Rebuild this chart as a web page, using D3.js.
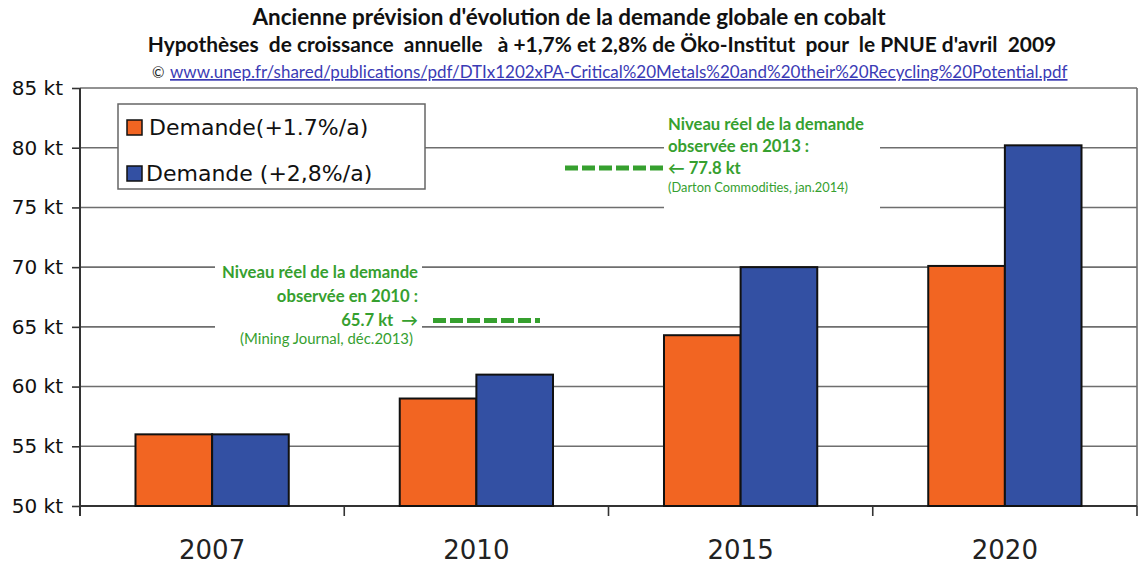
<!DOCTYPE html>
<html>
<head>
<meta charset="utf-8">
<script src="https://cdn.jsdelivr.net/npm/d3@7"></script>
<style>
  body { margin: 0; background: #fff; }
  svg { display: block; }
</style>
</head>
<body>
<div id="chart"></div>
<script>
// data
const years = ["2007", "2010", "2015", "2020"]
const seriesNames = ["Demande(+1.7%/a)", "Demande (+2,8%/a)"]
const low = [56, 59, 64.3, 70.1]     // +1,7%/a
const high = [56, 61, 70, 80.2]      // +2,8%/a
const yTicks = [50, 55, 60, 65, 70, 75, 80, 85]
const observed = [
  {year: "2010", value: 65.7, lines: ["Niveau réel de la demande", "observée en 2010 :", "65.7 kt  \u2192"], src: "(Mining Journal, déc.2013)"},
  {year: "2013", value: 77.8, lines: ["Niveau réel de la demande", "observée en 2013 :", "\u2190 77.8 kt"], src: "(Darton Commodities, jan.2014)"}
]

const width = 1138, height = 570
const colors = ["#f26522", "#3350a3"]
const green = "#36a02f"
const m = {left: 80, right: 1137, top: 88, bottom: 506}

const svg = d3.select("#chart").append("svg")
  .attr("width", width)
  .attr("height", height)

const x = d3.scaleBand().domain(years).range([m.left, m.right]).paddingInner(0.42).paddingOuter(0.21)
const xs = d3.scaleBand().domain([0, 1]).range([0, x.bandwidth()])
const y = d3.scaleLinear().domain([50, 85]).range([m.bottom, m.top])

// fit a text to a given width by changing its font size
function fit(sel, w) {
  let fs = parseFloat(sel.attr("font-size"))
  let len = sel.node().getComputedTextLength()
  sel.attr("font-size", (fs * w / len).toFixed(2))
  return fs * w / len
}

// TITLES
let t1 = svg.append("text").attr("x", 569).attr("y", 25).attr("text-anchor", "middle")
  .attr("font-family", "Lato").attr("font-weight", "bold").attr("font-size", 20).attr("fill", "#111")
  .text("Ancienne prévision d'évolution de la demande globale en cobalt")
fit(t1, 633)
let t2 = svg.append("text").attr("x", 602).attr("y", 52).attr("text-anchor", "middle")
  .attr("font-family", "Lato").attr("font-weight", "bold").attr("font-size", 17).attr("fill", "#111")
  .attr("xml:space", "preserve")
  .text("Hypothèses  de croissance  annuelle   à +1,7% et 2,8% de Öko-Institut  pour  le PNUE d'avril  2009")
fit(t2, 909)
svg.append("text").attr("x", 152).attr("y", 78)
  .attr("font-family", "Lato").attr("font-size", 15).attr("fill", "#222").text("©")
let t3 = svg.append("text").attr("x", 170).attr("y", 78)
  .attr("font-family", "Lato").attr("font-size", 15).attr("fill", "#3b3bb5")
  .attr("text-decoration", "underline")
  .text("www.unep.fr/shared/publications/pdf/DTIx1202xPA-Critical%20Metals%20and%20their%20Recycling%20Potential.pdf")
fit(t3, 898)

// GRID
svg.append("g").selectAll("line").data(yTicks).enter().append("line")
  .attr("x1", m.left).attr("x2", m.right)
  .attr("y1", d => y(d)).attr("y2", d => y(d))
  .attr("stroke", "#6e6e6e").attr("stroke-width", 1.6)
svg.append("line").attr("x1", m.right).attr("x2", m.right).attr("y1", m.top).attr("y2", m.bottom)
  .attr("stroke", "#6e6e6e").attr("stroke-width", 1.6)

// Y AXIS
const yAxis = svg.append("g").attr("transform", "translate(" + m.left + ",0)")
  .call(d3.axisLeft(y).tickValues(yTicks).tickSize(8).tickPadding(9).tickFormat(d => d + " kt"))
yAxis.select(".domain").remove()
yAxis.append("line").attr("x1", 0).attr("x2", 0).attr("y1", m.top).attr("y2", m.bottom + 10)
  .attr("stroke", "#333").attr("stroke-width", 2)
yAxis.selectAll(".tick line").attr("stroke", "#333").attr("stroke-width", 1.6)
yAxis.selectAll(".tick text").attr("font-family", "DejaVu Sans").attr("font-size", 20).attr("fill", "#111")

// X AXIS
const xAxis = svg.append("g")
svg.append("line").attr("x1", m.left).attr("x2", m.right).attr("y1", m.bottom).attr("y2", m.bottom)
  .attr("stroke", "#333").attr("stroke-width", 2)
const bounds = years.map(d => x(d) - x.step() * 0.21).concat([m.right])
xAxis.selectAll("line").data(bounds.slice(1)).enter().append("line")
  .attr("x1", d => d).attr("x2", d => d).attr("y1", m.bottom).attr("y2", m.bottom + 10)
  .attr("stroke", "#333").attr("stroke-width", 1.6)
xAxis.selectAll("text").data(years).enter().append("text")
  .attr("x", d => x(d) + x.bandwidth() / 2).attr("y", 559)
  .attr("text-anchor", "middle").attr("font-family", "DejaVu Sans").attr("font-size", 26).attr("fill", "#222")
  .text(d => d)

// ANNOTATIONS (white box behind text hides the grid)
const ann = svg.append("g")
observed.forEach((o, i) => {
  const yv = y(o.value)
  const g = ann.append("g")
  const left = i === 1
  const tx = left ? 668 : 418
  const anchor = left ? "start" : "end"
  if (left) g.append("rect").attr("x", 664).attr("y", yv - 60).attr("width", 216).attr("height", 96).attr("fill", "#fff")
  else g.append("rect").attr("x", 215).attr("y", yv - 55).attr("width", 207).attr("height", 88).attr("fill", "#fff")
  const step = left ? 22 : 24
  const y0 = left ? yv - 44 : yv - 40
  let fs = 15
  o.lines.forEach((l, k) => {
    let t = g.append("text").attr("x", tx).attr("y", y0 + k * step).attr("text-anchor", anchor)
      .attr("xml:space", "preserve")
      .attr("font-family", "Lato").attr("font-weight", "bold").attr("font-size", fs).attr("fill", green).text(l)
    if (k === 0) fs = fit(t, 196)
  })
  let s = g.append("text").attr("x", left ? tx : tx - 5).attr("y", left ? yv + 18 : yv + 26).attr("text-anchor", anchor)
    .attr("font-family", "Lato").attr("font-size", 12).attr("fill", green).text(o.src)
  fit(s, left ? 180 : 173)
  if (left) g.append("line").attr("x1", 565).attr("x2", 664).attr("y1", yv - 6).attr("y2", yv - 6)
    .attr("stroke", green).attr("stroke-width", 5).attr("stroke-dasharray", "13,4")
  else g.append("line").attr("x1", 433).attr("x2", 540).attr("y1", yv + 2).attr("y2", yv + 2)
    .attr("stroke", green).attr("stroke-width", 5).attr("stroke-dasharray", "13,4")
})

// BARS
const bars = svg.append("g")
;[low, high].forEach((vals, s) => {
  bars.selectAll(".bar" + s).data(years).enter().append("rect")
    .attr("class", "bar" + s)
    .attr("x", (d, i) => x(d) + xs(s))
    .attr("y", (d, i) => y(vals[i]))
    .attr("width", xs.bandwidth())
    .attr("height", (d, i) => y(50) - y(vals[i]))
    .attr("fill", colors[s])
    .attr("stroke", "#111").attr("stroke-width", 2)
})

// LEGEND
const leg = svg.append("g")
leg.append("rect").attr("x", 118).attr("y", 104).attr("width", 307).attr("height", 85)
  .attr("fill", "#fff").attr("stroke", "#666").attr("stroke-width", 1.5)
seriesNames.forEach((n, i) => {
  leg.append("rect").attr("x", 127).attr("y", 120 + i * 46).attr("width", 15).attr("height", 15)
    .attr("fill", colors[i]).attr("stroke", "#111").attr("stroke-width", 1.5)
  leg.append("text").attr("x", 149 - i * 3).attr("y", 135 + i * 46)
    .attr("font-family", "DejaVu Sans").attr("font-size", 22).attr("fill", "#111").text(n)
})
</script>
</body>
</html>
